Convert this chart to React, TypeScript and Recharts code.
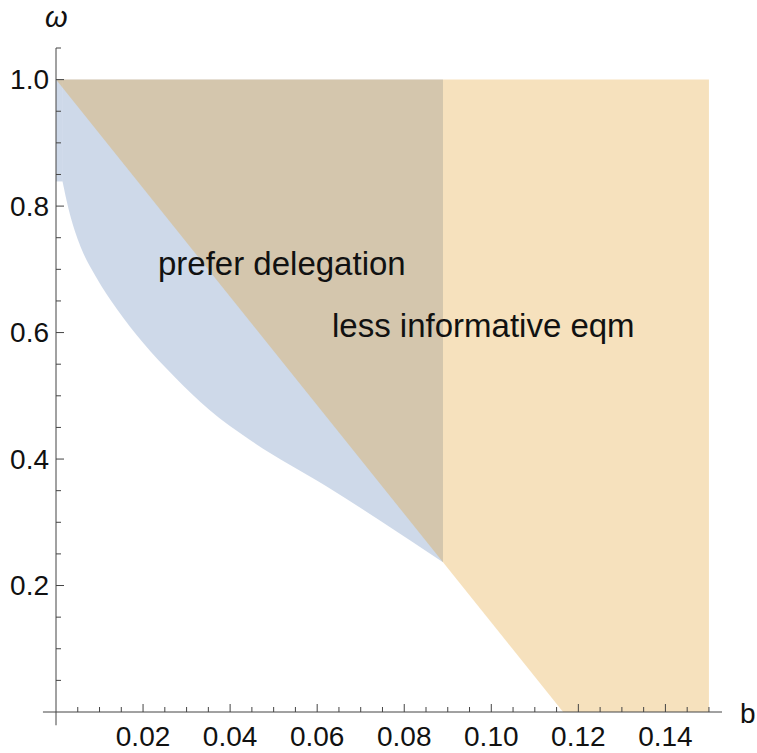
import { ComposedChart, Area, XAxis, YAxis, ReferenceLine } from 'recharts';

// "prefer delegation": the region is cut flat at the top-left, then follows a curve
const blueCapB = [0, 0.0015];
const blueCapLow = [0.839, 0.839];
const blueB = [0.0015, 0.0029, 0.0053, 0.0091, 0.0141, 0.02, 0.0271, 0.0352, 0.0444, 0.0621, 0.0744, 0.0889];
const blueLow = [0.839, 0.795, 0.742, 0.689, 0.636, 0.584, 0.531, 0.478, 0.431, 0.357, 0.303, 0.237];

// "less informative eqm"
const orangeB = [0, 0.1165, 0.15];
const orangeLow = [1, 0, 0];
const regionTop = 1;

const xTicks = [
  0.005, 0.01, 0.015, 0.02, 0.025, 0.03, 0.035, 0.04, 0.045, 0.05, 0.055, 0.06, 0.065, 0.07, 0.075, 0.08,
  0.085, 0.09, 0.095, 0.1, 0.105, 0.11, 0.115, 0.12, 0.125, 0.13, 0.135, 0.14, 0.145, 0.15,
];
const xLabels = ['0.02', '0.04', '0.06', '0.08', '0.10', '0.12', '0.14'];
const yTicks = [
  0.05, 0.1, 0.15, 0.2, 0.25, 0.3, 0.35, 0.4, 0.45, 0.5, 0.55, 0.6, 0.65, 0.7, 0.75, 0.8, 0.85, 0.9, 0.95,
  1.0, 1.05,
];
const yLabels = ['0.2', '0.4', '0.6', '0.8', '1.0'];

const FONT = '"Liberation Sans", Arial, Helvetica, sans-serif';
const AXIS = '#444';

function XTick(props: any) {
  const { x, y, payload } = props;
  const label = payload.value.toFixed(2);
  const major = xLabels.includes(label) && Math.abs(payload.value * 50 - Math.round(payload.value * 50)) < 1e-6;
  return (
    <g>
      <line x1={x} y1={y} x2={x} y2={y - (major ? 8 : 5)} stroke={AXIS} strokeWidth={1} />
      {major && (
        <text x={x} y={y + 34} textAnchor="middle" fontSize={28} fontFamily={FONT} fill="#111">
          {label}
        </text>
      )}
    </g>
  );
}

function YTick(props: any) {
  const { x, y, payload } = props;
  const label = payload.value.toFixed(1);
  const major = yLabels.includes(label) && Math.abs(payload.value * 5 - Math.round(payload.value * 5)) < 1e-6;
  return (
    <g>
      <line x1={x} y1={y} x2={x + (major ? 8 : 5)} y2={y} stroke={AXIS} strokeWidth={1} />
      {major && (
        <text x={x - 7} y={y} dy="0.35em" textAnchor="end" fontSize={28} fontFamily={FONT} fill="#111">
          {label}
        </text>
      )}
    </g>
  );
}

export default function App() {
  const capData = blueCapB.map((b, i) => ({ b, w: [blueCapLow[i], regionTop] }));
  const blueData = blueB.map((b, i) => ({ b, w: [blueLow[i], regionTop] }));
  const orangeData = orangeB.map((b, i) => ({ b, w: [orangeLow[i], regionTop] }));

  return (
    <div style={{ position: 'absolute', left: 0, top: 0, width: 757, height: 753, background: '#fff' }}>
      <ComposedChart width={757} height={753} margin={{ top: 48, right: 35, bottom: 40, left: 55 }}>
        <XAxis
          type="number"
          dataKey="b"
          domain={[0, 0.153]}
          ticks={xTicks}
          interval={0}
          height={1}
          tickSize={0}
          tickMargin={0}
          tickLine={false}
          axisLine={{ stroke: AXIS }}
          tick={<XTick />}
          allowDataOverflow
        />
        <YAxis
          type="number"
          domain={[0, 1.05]}
          ticks={yTicks}
          interval={0}
          width={1}
          tickSize={0}
          tickMargin={0}
          tickLine={false}
          axisLine={{ stroke: AXIS }}
          tick={<YTick />}
          allowDataOverflow
        />
        <Area
          data={capData}
          dataKey="w"
          type="linear"
          stroke="none"
          fill="#5E81B5"
          fillOpacity={0.3}
          isAnimationActive={false}
        />
        <Area
          data={blueData}
          dataKey="w"
          type="monotoneX"
          stroke="none"
          fill="#5E81B5"
          fillOpacity={0.3}
          isAnimationActive={false}
        />
        <Area
          data={orangeData}
          dataKey="w"
          type="linear"
          stroke="none"
          fill="#E19C24"
          fillOpacity={0.3}
          isAnimationActive={false}
        />
        <ReferenceLine
          segment={[{ x: -0.003, y: 0 }, { x: 0, y: 0 }]}
          stroke={AXIS}
          ifOverflow="visible"
        />
        <ReferenceLine
          segment={[{ x: 0, y: -0.021 }, { x: 0, y: 0 }]}
          stroke={AXIS}
          ifOverflow="visible"
        />
      </ComposedChart>
      <svg
        width={757}
        height={753}
        style={{ position: 'absolute', left: 0, top: 0, pointerEvents: 'none' }}
        fontFamily={FONT}
      >
        <text x={45} y={26.5} fontSize={29} fontStyle="italic" fill="#111">
          ω
        </text>
        <text x={740} y={723} fontSize={28} fill="#111">
          b
        </text>
        <text x={158} y={275} fontSize={33} fill="#111">
          prefer delegation
        </text>
        <text x={332} y={337} fontSize={33} fill="#111">
          less informative eqm
        </text>
      </svg>
    </div>
  );
}
